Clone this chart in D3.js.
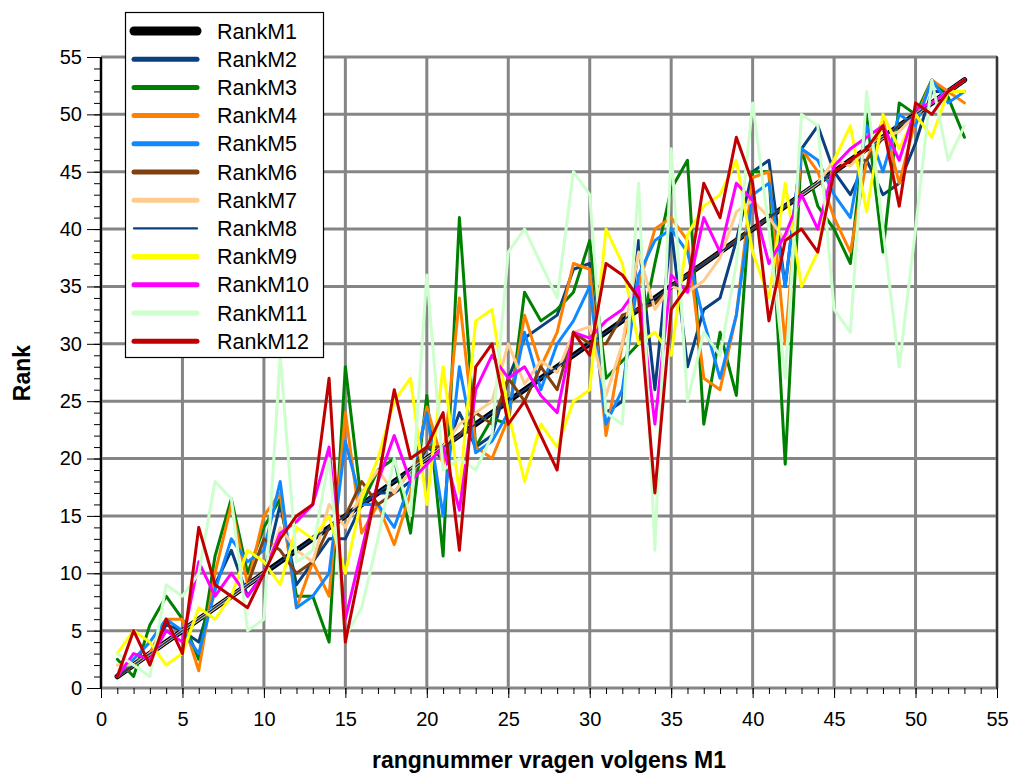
<!DOCTYPE html>
<html><head><meta charset="utf-8">
<script src="https://cdn.jsdelivr.net/npm/d3@7/dist/d3.min.js"></script>
<style>body{margin:0;background:#fff}svg{display:block}text{font-family:"Liberation Sans",Arial,sans-serif}</style>
</head><body>
<svg id="c" width="1012" height="776"></svg>
<script>
const seriesNames=["RankM1","RankM2","RankM3","RankM4","RankM5","RankM6","RankM7","RankM8","RankM9","RankM10","RankM11","RankM12"];
const xTicks=[0,5,10,15,20,25,30,35,40,45,50,55];
const yTicks=[0,5,10,15,20,25,30,35,40,45,50,55];
const questionNumbers=[1,2,3,4,5,6,7,8,9,10,11,12,13,14,15,16,17,18,19,20,21,22,23,24,25,26,27,28,29,30,31,32,33,34,35,36,37,38,39,40,41,42,43,44,45,46,47,48,49,50,51,52,53];
const rankM1=[1,2,3,4,5,6,7,8,9,10,11,12,13,14,15,16,17,18,19,20,21,22,23,24,25,26,27,28,29,30,31,32,33,34,35,36,37,38,39,40,41,42,43,44,45,46,47,48,49,50,51,52,53];
const rankM2=[1,2,3,5.5,5,4,9,12,8,10,16,9,11,13,13,16,17,17,18,21,20,24,21,22,27,30.5,31.5,32.5,36.5,37,24,25,39,26,40,28,33,34,39,45,46,35,47,49,45,43,46,43,44,47.5,52,52,53];
const rankM3=[2.5,1,5.5,8,6,2.5,11.5,16.5,10,14,16.5,8,8,4,28,16,19,20,13.5,25.5,11.5,41,21,23.5,23,34.5,32,33,34.5,39,27,28.5,30,37,43.5,46,23,31,25.5,45,45,19.5,47,42,40,37,50,38,51,50,53,51.5,48];
const rankM4=[1,2,3,6,6,1.5,10,16,9,15,17,7,11,8,24,13.5,16,12.5,17,24.5,19.5,34,21,20,23.5,32.5,28,31,37,36.5,22,30,35,40,41,39,27,26,32.5,44.5,45,30,47,45,41,38,46,49.5,44,49.5,53,52,51];
const rankM5=[1,2.5,4,6,5,3,8.5,13,11,12,18,7,8,10,21.5,16,16,14,18,24,15,28,20.5,21.5,24,31,26,30,32,35,23,26,36,39,40,38,32,27,32.5,43,44,35,47,46,43,41,49,45,50,49,53,51,52];
const rankM6=[1,2,3,4,5,6,7,8,9,13,12,10,11,14,15,18,16,17,19,21,21,22,24,23,27,25,28,26,31,30,30,32.5,33,33.5,35,36,37,38,39,40,41,42,43,44,45,46,46,48,49,50,51,52,53];
const rankM7=[2,2,3,4,5,6,7,8,9,10,14,12,11,16,14,17,19,17,19,20,21,23,24,25,30,26.5,28.5,27.5,31,31.5,25.5,30,38,33,35,34.5,35.5,37.5,41.5,42.5,41,39,43,44,46,45.5,47,48,48.5,50,51,52,53];
const rankM8=[1,2,3,4,5,6,7,8,9,10,11,12,13,14,15,16,17,18,19,20,21,22,23,24,25,26,27,28,29,30,31,32,33,34,35,36,37,38,39,40,41,42,43,44,45,46,47,48,49,50,51,52,53];
const rankM9=[3,5,4,2,3,7,6,8,12,11,9,14,13,15,10,16.5,20,25,27,16,28,17,32,33,24,18,23,21,25,26,40,37,30,31,29,39.5,42,43,46,38,34,44,35,38,46,49,41.5,50,47,50,48,52,52];
const rankM10=[1,3,2.5,5,4,11,8,10,8,10,13.5,14.5,16,21,6,12,18,22,18,19.5,21,15.5,26,29,27,28,25.5,24,31,30.5,32,33,35,23,36,34.5,41,38,44,42.5,37,39.5,43,40,45.5,47,48,49,46,50.5,51,52,53];
const rankM11=[3,2,1,9,8,10,18,16.5,5,6,29,11,12,20,4.5,7,13,20,15,36,19,20,19,22,38,40,37,34,45,43,24,23,44,12,47,25,31,29,37,51,40,27,50,49,33,31,52,40,28,40,53,46,49];
const rankM12=[1,5,2,6,3,14,9,8,7,10,13,15,16,27,4,11,18,26,20,21,24,12,28,30,23,25,22,19,31,29,37,36,34,17,33,35,44,41,48,44,32,39,40,38,45,46,47,49,42,51,50,52,53];

const seriesValues=[rankM1,rankM2,rankM3,rankM4,rankM5,rankM6,rankM7,rankM8,rankM9,rankM10,rankM11,rankM12];
const colors=["#000000","#0a3f80","#008000","#ff8000","#1088ff","#804010","#ffcc90","#0a3f80","#ffff00","#ff00ff","#ccffcc","#c00000"];
const widths=[5.5,3,3,3,3,3,3,1.6,3,3,3,3];

const svg=d3.select("#c");
const L=101,R=997,T=57,B=688;
const x=d3.scaleLinear().domain([0,55]).range([L,R]);
const y=d3.scaleLinear().domain([0,55]).range([B,T]);

// grid
svg.append("g").selectAll("line").data(xTicks).join("line")
 .attr("x1",d=>x(d)).attr("x2",d=>x(d)).attr("y1",T).attr("y2",B)
 .attr("stroke","#858585").attr("stroke-width",3);
svg.append("g").selectAll("line").data(yTicks).join("line")
 .attr("y1",d=>y(d)).attr("y2",d=>y(d)).attr("x1",L).attr("x2",R)
 .attr("stroke","#858585").attr("stroke-width",3);

// axes
const minor=d3.range(0,56);
const xAxisMinor=d3.axisBottom(x).tickValues(minor).tickSize(6).tickFormat("");
const xAxisMajor=d3.axisBottom(x).tickValues(xTicks).tickSize(10).tickPadding(14).tickFormat(d3.format("d"));
const yAxisMinor=d3.axisLeft(y).tickValues(minor).tickSize(7).tickFormat("");
const yAxisMajor=d3.axisLeft(y).tickValues(yTicks).tickSize(14).tickPadding(5).tickFormat(d3.format("d"));
function styleAxis(g){g.select(".domain").remove();g.selectAll(".tick line").attr("stroke","#000").attr("stroke-width",1);g.selectAll("text").attr("font-size",20).attr("fill","#000").attr("font-family","'Liberation Sans',Arial,sans-serif");}
svg.append("g").attr("transform",`translate(0,${B})`).call(xAxisMinor).call(styleAxis);
svg.append("g").attr("transform",`translate(0,${B})`).call(xAxisMajor).call(styleAxis);
svg.append("g").attr("transform",`translate(${L},0)`).call(yAxisMinor).call(styleAxis);
svg.append("g").attr("transform",`translate(${L},0)`).call(yAxisMajor).call(styleAxis);
svg.append("line").attr("x1",L).attr("x2",L).attr("y1",T).attr("y2",B+1).attr("stroke","#000").attr("stroke-width",2);
svg.append("line").attr("x1",R).attr("x2",R).attr("y1",T-1).attr("y2",B+1).attr("stroke","#000").attr("stroke-width",1.2);

// series
const line=d3.line().x((d,i)=>x(questionNumbers[i])).y(d=>y(d));
const clipId="plotclip";
svg.append("clipPath").attr("id",clipId).append("rect").attr("x",L).attr("y",T-4).attr("width",R-L).attr("height",B-T+8);
const pg=svg.append("g").attr("clip-path",`url(#${clipId})`);
seriesValues.forEach((vals,k)=>{
  pg.append("path").datum(vals).attr("d",line).attr("fill","none")
   .attr("stroke",colors[k]).attr("stroke-width",widths[k]).attr("stroke-linejoin","round").attr("stroke-linecap","round");
});

// legend
const lg=svg.append("g");
lg.append("rect").attr("x",125.5).attr("y",12.5).attr("width",198).attr("height",345).attr("fill","#fff").attr("stroke","#000").attr("stroke-width",1.2);
seriesNames.forEach((n,k)=>{
  const yy=31+k*28.2;
  lg.append("line").attr("x1",134).attr("x2",197).attr("y1",yy).attr("y2",yy)
   .attr("stroke",colors[k]).attr("stroke-width",k===0?9:(k===7?2.2:5)).attr("stroke-linecap","round");
  lg.append("text").attr("x",217).attr("y",yy+7.5).attr("font-size",21.5).text(n);
});

// titles
svg.append("text").attr("x",549).attr("y",768).attr("text-anchor","middle").attr("font-size",23).attr("font-weight","bold").text("rangnummer vragen volgens M1");
svg.append("text").attr("transform","translate(30,373) rotate(-90)").attr("text-anchor","middle").attr("font-size",23).attr("font-weight","bold").text("Rank");
</script>
</body></html>
